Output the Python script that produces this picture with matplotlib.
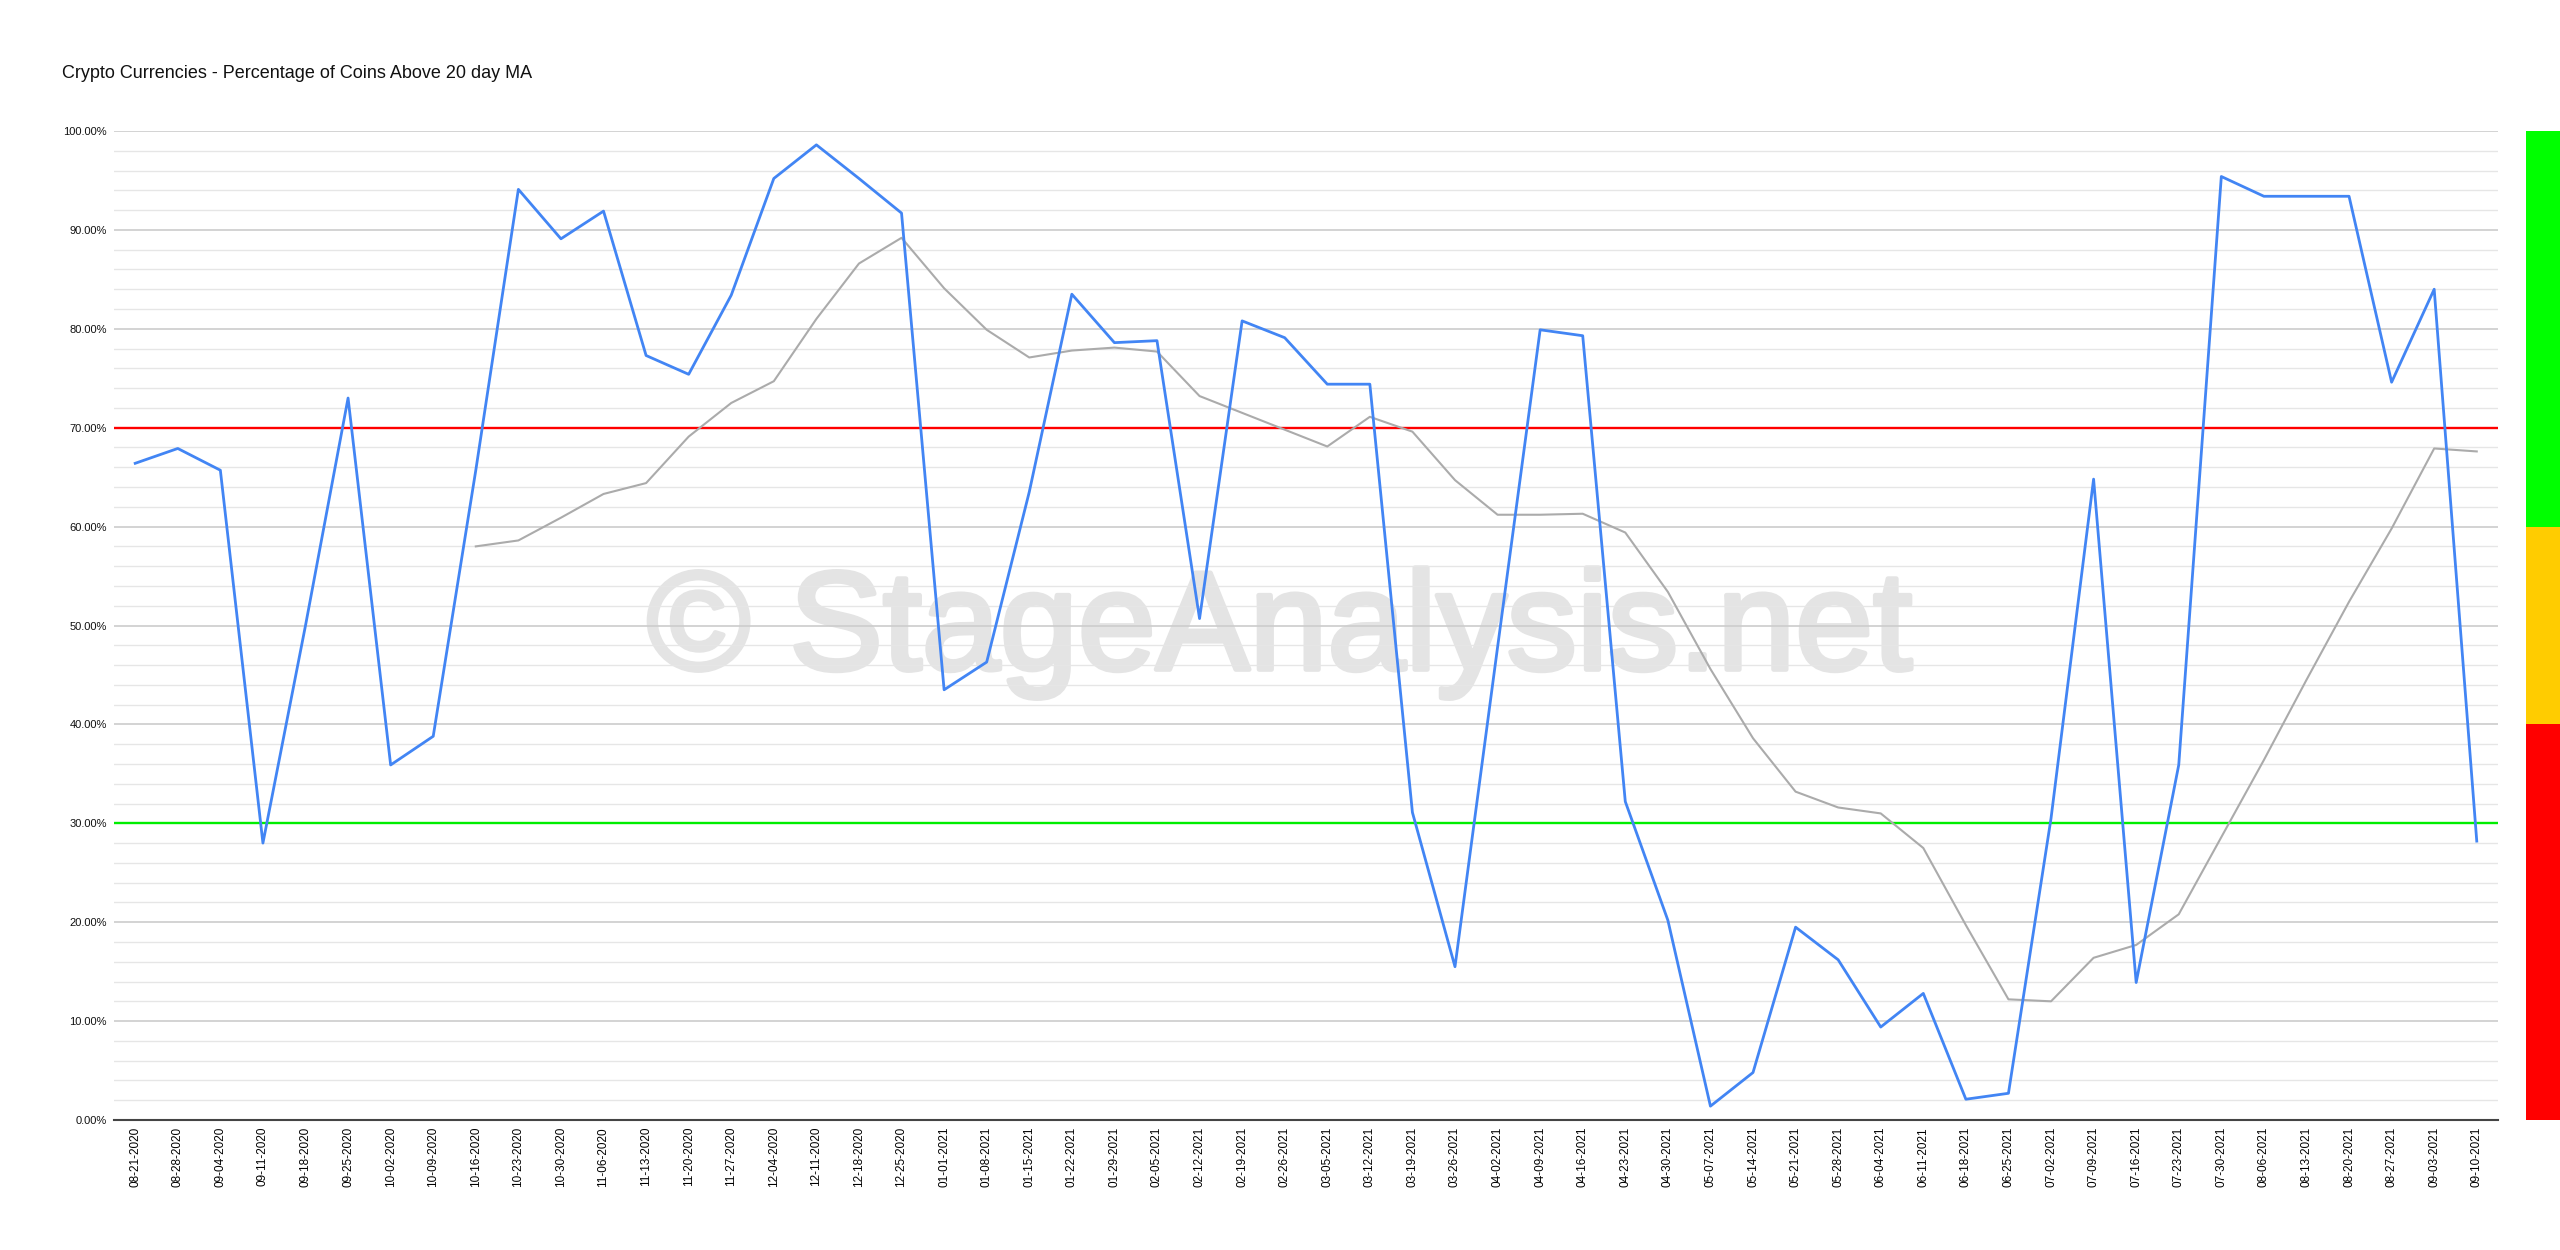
'''
Crypto currencies: percentage of coins above their 20 day MA,
weekly readings with a moving average line and 30/70 zones.
'''
import matplotlib
matplotlib.use('Agg')
import matplotlib.pyplot as plt
import matplotlib.patheffects as pe
from matplotlib.ticker import FuncFormatter, MultipleLocator
import numpy as np

plt.rcParams['font.family'] = ['Liberation Sans', 'DejaVu Sans']

dates = ['08-21-2020','08-28-2020','09-04-2020','09-11-2020','09-18-2020','09-25-2020',
         '10-02-2020','10-09-2020','10-16-2020','10-23-2020','10-30-2020','11-06-2020',
         '11-13-2020','11-20-2020','11-27-2020','12-04-2020','12-11-2020','12-18-2020',
         '12-25-2020','01-01-2021','01-08-2021','01-15-2021','01-22-2021','01-29-2021',
         '02-05-2021','02-12-2021','02-19-2021','02-26-2021','03-05-2021','03-12-2021',
         '03-19-2021','03-26-2021','04-02-2021','04-09-2021','04-16-2021','04-23-2021',
         '04-30-2021','05-07-2021','05-14-2021','05-21-2021','05-28-2021','06-04-2021',
         '06-11-2021','06-18-2021','06-25-2021','07-02-2021','07-09-2021','07-16-2021',
         '07-23-2021','07-30-2021','08-06-2021','08-13-2021','08-20-2021','08-27-2021',
         '09-03-2021','09-10-2021']

pct_above = [66.4, 67.9, 65.7, 28.0, 50.0, 73.0, 35.9, 38.8, 65.7, 94.1,
             89.1, 91.9, 77.3, 75.4, 83.4, 95.2, 98.6, 95.2, 91.7, 43.5,
             46.3, 63.5, 83.5, 78.6, 78.8, 50.7, 80.8, 79.1, 74.4, 74.4,
             31.1, 15.5, 47.8, 79.9, 79.3, 32.2, 20.2, 1.4, 4.8, 19.5,
             16.2, 9.4, 12.8, 2.1, 2.7, 30.5, 64.8, 13.9, 35.9, 95.4,
             93.4, 93.4, 93.4, 74.6, 84.0, 28.2]

# moving average only starts at 10-16-2020
ma_start = 8
pct_ma = [58.0, 58.6, 60.9, 63.3, 64.4, 69.1, 72.5, 74.7, 81.0, 86.6,
          89.2, 84.1, 79.9, 77.1, 77.8, 78.1, 77.7, 73.2, 71.5, 69.8,
          68.1, 71.1, 69.6, 64.7, 61.2, 61.2, 61.3, 59.4, 53.4, 45.6,
          38.6, 33.2, 31.6, 31.0, 27.5, 19.7, 12.2, 12.0, 16.4, 17.7,
          20.8, 28.6, 36.4, 44.5, 52.4, 59.8, 67.9, 67.6]

upper_level = 70
lower_level = 30

# zone bar on the right: (bottom, top, colour)
zone_bottoms = [0, 40, 60]
zone_tops = [40, 60, 100]
zone_colors = ['#ff0000', '#ffcc00', '#00ff00']

fig = plt.figure(figsize=(25.6, 12.5), dpi=100)
ax = fig.add_axes([0.0445, 0.104, 0.9313, 0.7912])

x = np.arange(len(dates))
ma = np.full(len(dates), np.nan)
ma[ma_start:] = pct_ma

ax.set_axisbelow(True)
ax.yaxis.set_major_locator(MultipleLocator(10))
ax.yaxis.set_minor_locator(MultipleLocator(2))
ax.grid(which='major', axis='y', color='#cccccc', linewidth=1.2, zorder=0.5)
ax.grid(which='minor', axis='y', color='#e6e6e6', linewidth=1.0, zorder=0.5)

wm_color = '#e4e4e4'
ax.text(0.489, 0.492, '\u00a9 StageAnalysis.net', transform=ax.transAxes,
        fontsize=101, color=wm_color, ha='center', va='center', zorder=0.4,
        path_effects=[pe.withStroke(linewidth=3.5, foreground=wm_color)])

ax.axhline(upper_level, color='#ff0000', linewidth=1.7, zorder=2)
ax.axhline(lower_level, color='#00ee00', linewidth=1.7, zorder=2)
ax.plot(x, ma, color='#ababab', linewidth=1.5, zorder=3)
ax.plot(x, pct_above, color='#4285f4', linewidth=2.0, zorder=4)

ax.set_xlim(-0.5, len(dates) - 0.5)
ax.set_ylim(0, 100)
ax.set_xticks(x)
ax.set_xticklabels(dates, rotation=90, fontsize=8.5, color='#000000')
ax.yaxis.set_major_formatter(FuncFormatter(lambda v, p: '%.2f%%' % v))
ax.tick_params(axis='y', which='both', length=0, pad=5, labelsize=8, labelcolor='#111111')
ax.tick_params(axis='x', length=0, pad=5)

for s in ['top', 'right', 'left']:
    ax.spines[s].set_visible(False)
ax.spines['bottom'].set_color('#444444')
ax.spines['bottom'].set_linewidth(1.5)
ax.spines['bottom'].set_zorder(5)

fig.text(62/2560, 1 - 73/1250, 'Crypto Currencies - Percentage of Coins Above 20 day MA',
         fontsize=13, color='#111111', ha='left', va='center')

# colour zone bar
zax = fig.add_axes([0.9867, 0.104, 0.0133, 0.7912])
zax.bar([0] * len(zone_bottoms), np.array(zone_tops) - np.array(zone_bottoms),
        bottom=zone_bottoms, color=zone_colors, width=1.0)
zax.set_xlim(-0.5, 0.5)
zax.set_ylim(0, 100)
zax.axis('off')

plt.savefig('out.png', dpi=100)
